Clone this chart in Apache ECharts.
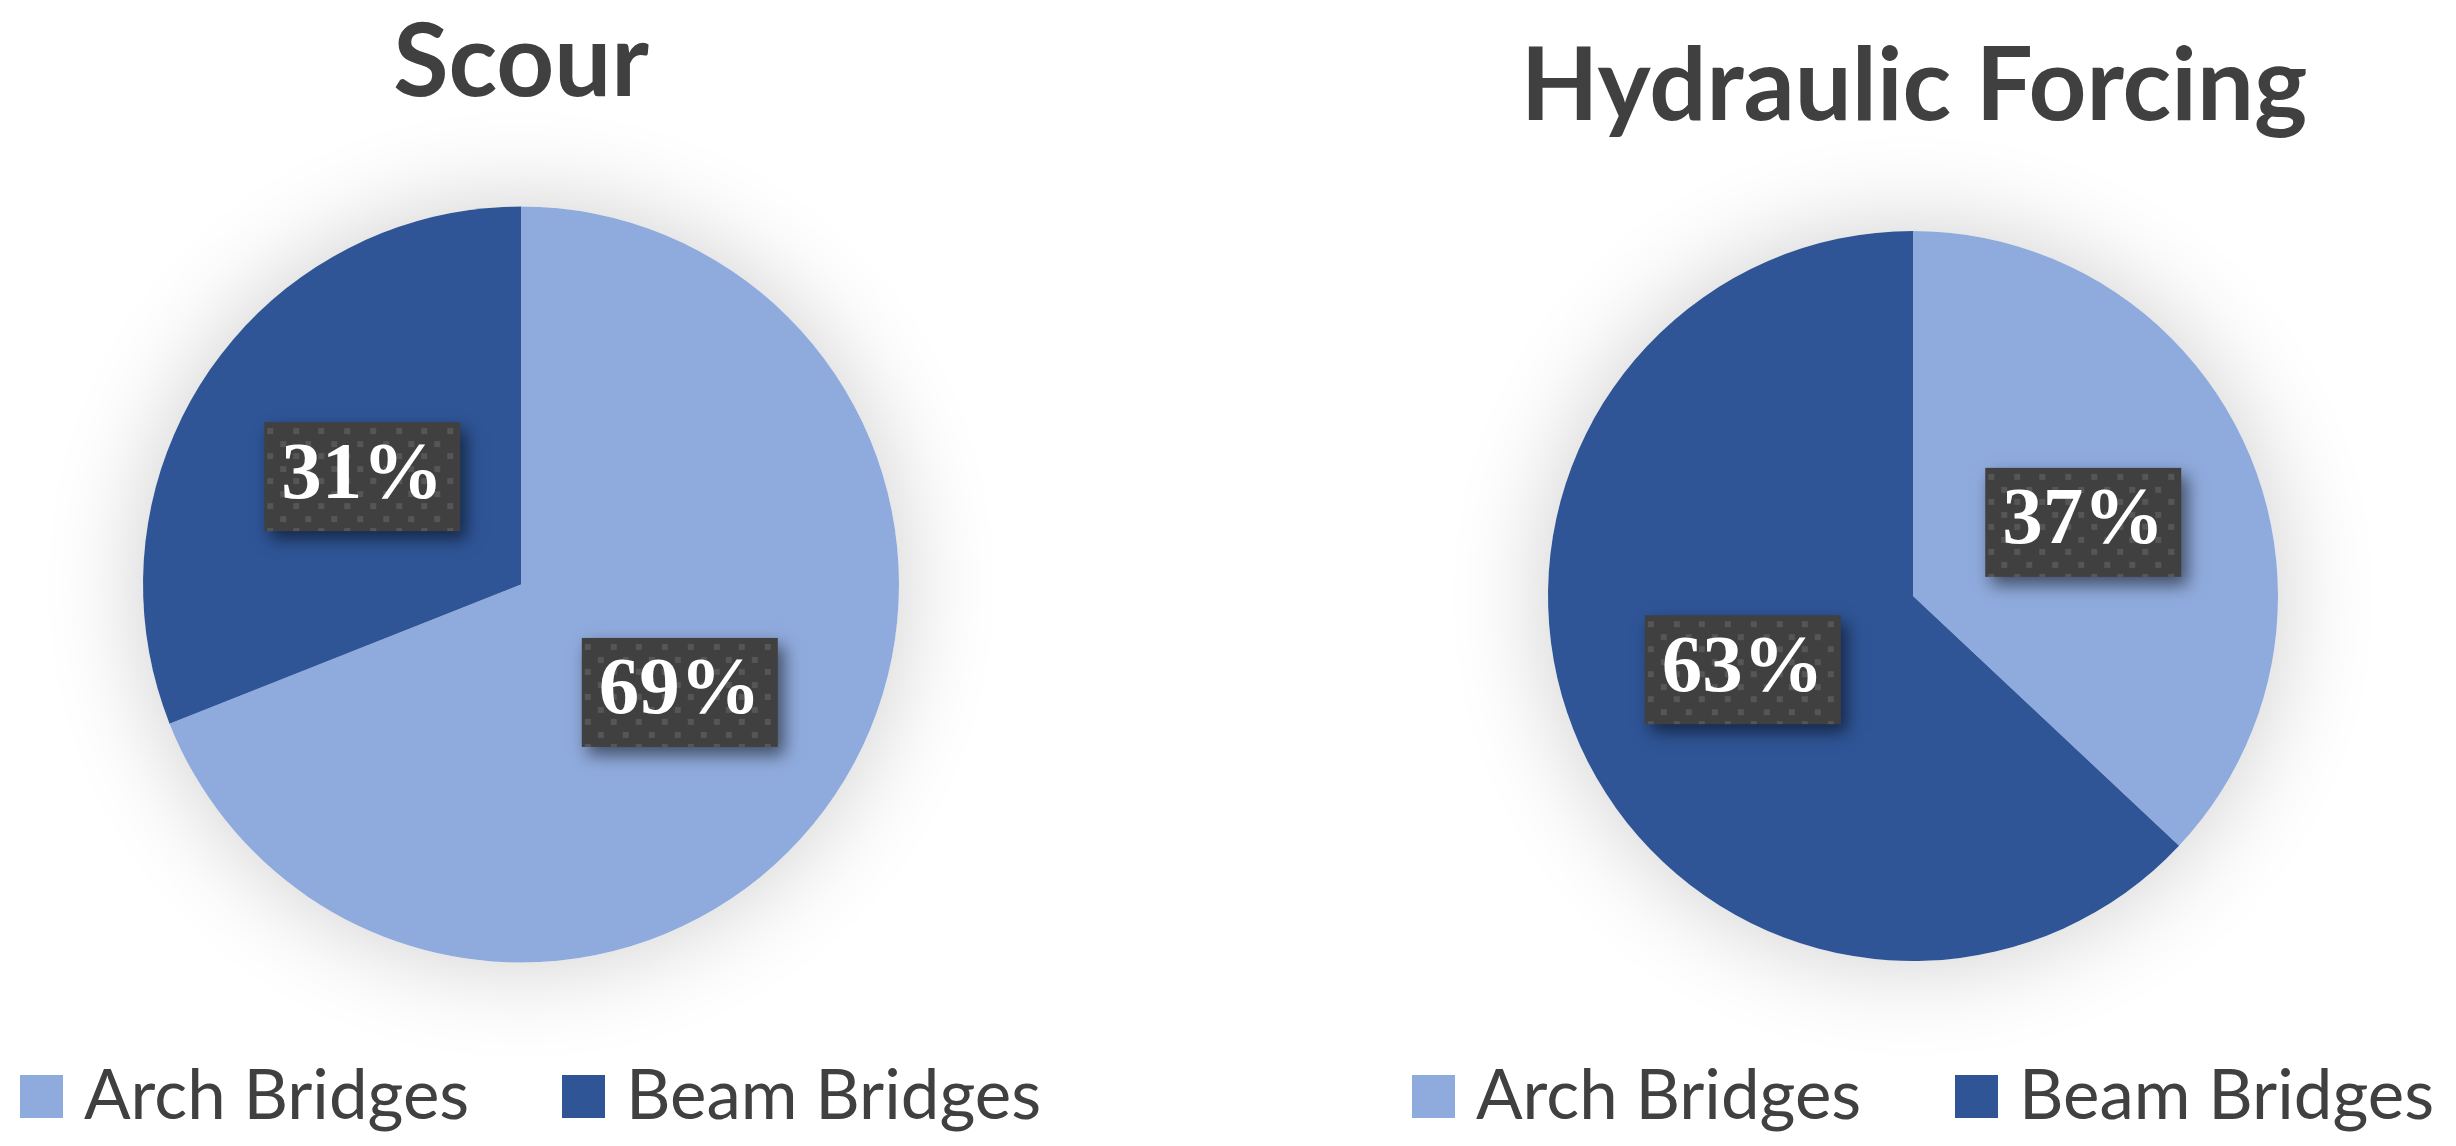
<!DOCTYPE html>
<html><head><meta charset="utf-8">
<script src="https://cdn.jsdelivr.net/npm/echarts@6/dist/echarts.min.js"></script>
<style>html,body{margin:0;padding:0;background:#fff}#c{width:2456px;height:1146px}</style>
</head><body><div id="c"></div>
<script>
// ---- data ----
const categories = ['Arch Bridges', 'Beam Bridges'];
const scourValues = [69, 31];
const hydraulicValues = [37, 63];
const chartTitles = ['Scour', 'Hydraulic Forcing'];
const colors = ['#8FAADC', '#2F5597'];

// ---- label background (dark box with dotted pattern and soft shadow) ----
const M = 30, BW = 196, BH = 109;
function makeLabelBg() {
  const cv = document.createElement('canvas');
  cv.width = BW + 2 * M; cv.height = BH + 2 * M;
  const ctx = cv.getContext('2d');
  ctx.save();
  ctx.shadowColor = 'rgba(0,0,0,0.55)';
  ctx.shadowBlur = 16; ctx.shadowOffsetX = 6; ctx.shadowOffsetY = 8;
  ctx.fillStyle = '#404040';
  ctx.fillRect(M, M, BW, BH);
  ctx.restore();
  ctx.save();
  ctx.beginPath(); ctx.rect(M, M, BW, BH); ctx.clip();
  ctx.fillStyle = '#565656';
  for (let r = 0; r * 12.5 < BH + 12; r++) {
    const y = M + 6 + r * 12.5;
    const off = (r % 2) ? 0 : 13;
    for (let x = M - 10 + off; x < M + BW + 10; x += 25.7) {
      ctx.fillRect(Math.round(x), Math.round(y), 6, 6);
    }
  }
  ctx.restore();
  return cv;
}
const labelBg = makeLabelBg();

const labelOpt = {
  show: true, position: 'inside', formatter: '{c}%',
  color: '#fff', fontFamily: '"Liberation Serif", "Times New Roman", serif',
  fontWeight: 'bold', fontSize: 81,
  backgroundColor: { image: labelBg },
  width: BW + 2 * M, height: BH + 2 * M, lineHeight: BH + 2 * M,
  padding: 0, align: 'center', verticalAlign: 'middle'
};

function mkPie(values, center, radius) {
  const total = values.reduce((a, b) => a + b, 0);
  return [
    { // soft shadow disc behind the pie
      type: 'pie', center: center, radius: radius, silent: true, z: 1,
      data: [{ name: '_shadow', value: total }],
      itemStyle: { color: '#ffffff', shadowBlur: 100, shadowColor: 'rgba(0,0,0,0.2)', borderWidth: 0 },
      label: { show: false }, labelLine: { show: false }, emphasis: { disabled: true }
    },
    {
      type: 'pie', center: center, radius: radius, startAngle: 90, clockwise: true, z: 2,
      data: categories.map((n, i) => ({ name: n, value: values[i], itemStyle: { color: colors[i] } })),
      itemStyle: { borderWidth: 0 },
      label: labelOpt, labelLine: { show: false }, emphasis: { disabled: true }
    }
  ];
}

const titleStyle = { fontFamily: 'Lato', fontWeight: 'bold', fontSize: 101, color: '#404040' };
const legendBase = {
  orient: 'horizontal', icon: 'rect', itemWidth: 43, itemHeight: 43, padding: 0,
  selectedMode: false,
  textStyle: { fontFamily: 'Lato', fontSize: 69, color: '#404040', padding: [0, 0, 0, 16] }
};

const option = {
  animation: false,
  backgroundColor: '#ffffff',
  title: [
    { text: chartTitles[0], left: 521, top: 13, textAlign: 'center', padding: 0, textStyle: titleStyle },
    { text: chartTitles[1], left: 1914, top: 37, textAlign: 'center', padding: 0, textStyle: titleStyle }
  ],
  legend: [
    Object.assign({}, legendBase, { left: 20, top: 1062, data: [categories[0]] }),
    Object.assign({}, legendBase, { left: 562, top: 1062, data: [categories[1]] }),
    Object.assign({}, legendBase, { left: 1412, top: 1062, data: [categories[0]] }),
    Object.assign({}, legendBase, { left: 1955, top: 1062, data: [categories[1]] })
  ],
  series: [].concat(
    mkPie(scourValues, [521, 584.5], 378),
    mkPie(hydraulicValues, [1913, 596], 365)
  )
};

const chart = echarts.init(document.getElementById('c'), null, { renderer: 'canvas' });
chart.setOption(option);
</script>
</body></html>
